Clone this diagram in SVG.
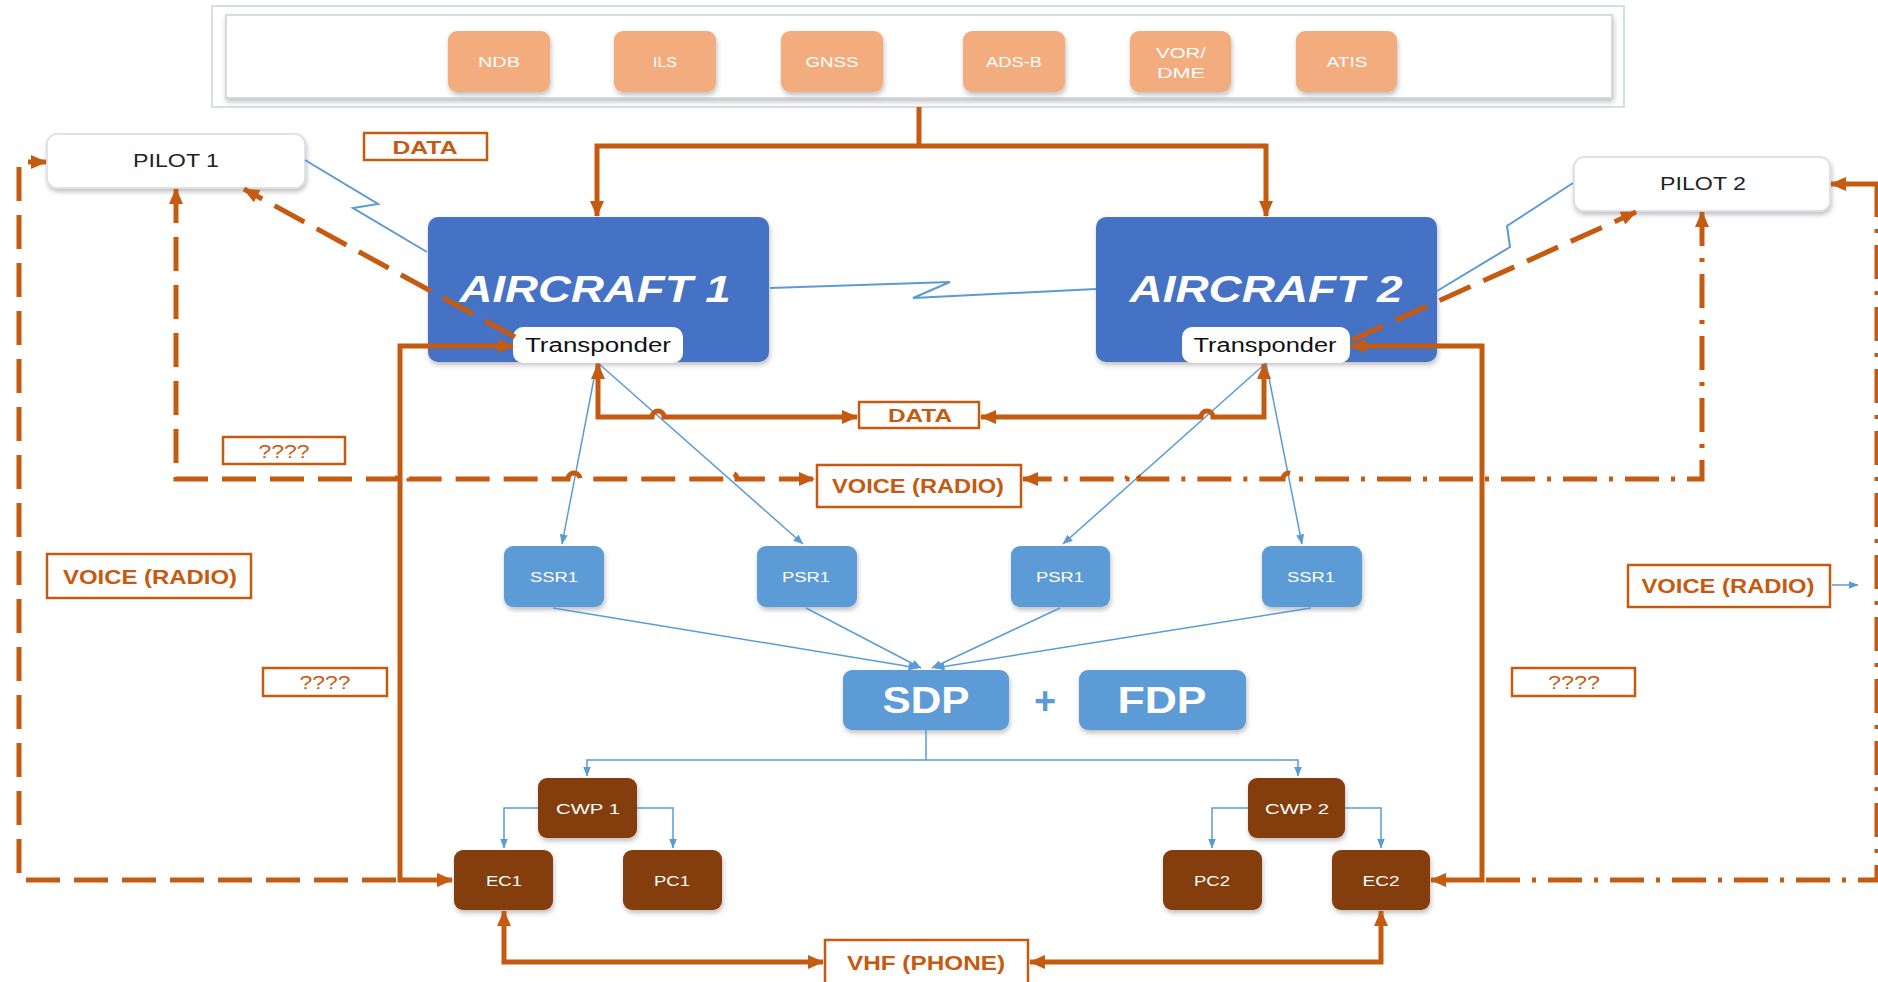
<svg xmlns="http://www.w3.org/2000/svg" width="1878" height="982" viewBox="0 0 1878 982">
<style>
text{font-family:"Liberation Sans",Arial,sans-serif;}
.peach{fill:#F2AC7E;}
.ptxt{fill:#FFFFFF;font-size:14px;text-anchor:middle;}
.ac{fill:#4472C4;}
.actxt{fill:#FFFFFF;font-size:36px;font-weight:bold;font-style:italic;text-anchor:middle;}
.tp{fill:#FFFFFF;}
.tptxt{fill:#111111;font-size:20px;text-anchor:middle;}
.pilot{fill:#FFFFFF;stroke:#D6DCE4;stroke-width:1.5;}
.pilottxt{fill:#222222;font-size:18px;text-anchor:middle;}
.lbl{fill:#FFFFFF;stroke:#C55A11;stroke-width:2.5;}
.lbltxt{fill:#C55A11;font-size:20px;font-weight:bold;text-anchor:middle;}
.qtxt{fill:#C55A11;font-size:19px;text-anchor:middle;}
.blue{fill:#5B9BD5;}
.btxt{fill:#FFFFFF;font-size:14px;text-anchor:middle;}
.big{fill:#FFFFFF;font-size:37px;font-weight:bold;text-anchor:middle;}
.brown{fill:#843C0C;}
.brtxt{fill:#FFFFFF;font-size:15px;text-anchor:middle;}
.o{fill:none;stroke:#C55A11;stroke-width:5;}
.od{fill:none;stroke:#C55A11;stroke-width:5;stroke-dasharray:34 14;}
.odd{fill:none;stroke:#C55A11;stroke-width:5;stroke-dasharray:34 12 4 12;}
.bl{fill:none;stroke:#5B9BD5;stroke-width:1.5;}
.lz{fill:none;stroke:#5B9BD5;stroke-width:2;stroke-linejoin:miter;}
</style>
<defs>
<marker id="oa" viewBox="0 0 16 14" refX="15" refY="7" markerWidth="16" markerHeight="14" markerUnits="userSpaceOnUse" orient="auto-start-reverse">
<path d="M0,0 L16,7 L0,14 z" fill="#C55A11"/>
</marker>
<marker id="ba" viewBox="0 0 10 8" refX="9.5" refY="4" markerWidth="10" markerHeight="8" markerUnits="userSpaceOnUse" orient="auto-start-reverse">
<path d="M0,0 L10,4 L0,8 z" fill="#5B9BD5"/>
</marker>
<filter id="sh" x="-10%" y="-10%" width="130%" height="140%">
<feDropShadow dx="1" dy="3" stdDeviation="2.5" flood-color="#000000" flood-opacity="0.25"/>
</filter>
</defs>

<!-- top navigation aids panel -->
<g id="navaids">
<rect x="212" y="6" width="1412" height="101" fill="#FFFFFF" stroke="#D5DEE8" stroke-width="2"/>
<rect x="226" y="15" width="1386" height="83" fill="#FFFFFF" stroke="#CFCFCF" stroke-width="1.5" filter="url(#sh)"/>
</g>
<g id="ndb"><rect class="peach" x="448" y="31" width="102" height="61" rx="9" filter="url(#sh)"/><text class="ptxt" x="499" y="67" textLength="42" lengthAdjust="spacingAndGlyphs">NDB</text></g>
<g id="ils"><rect class="peach" x="614" y="31" width="102" height="61" rx="9" filter="url(#sh)"/><text class="ptxt" x="665" y="67" textLength="24" lengthAdjust="spacingAndGlyphs">ILS</text></g>
<g id="gnss"><rect class="peach" x="781" y="31" width="102" height="61" rx="9" filter="url(#sh)"/><text class="ptxt" x="832" y="67" textLength="53" lengthAdjust="spacingAndGlyphs">GNSS</text></g>
<g id="adsb"><rect class="peach" x="963" y="31" width="102" height="61" rx="9" filter="url(#sh)"/><text class="ptxt" x="1014" y="67" textLength="56" lengthAdjust="spacingAndGlyphs">ADS-B</text></g>
<g id="vordme"><rect class="peach" x="1130" y="31" width="101" height="61" rx="9" filter="url(#sh)"/><text class="ptxt" x="1181" y="58" textLength="50" lengthAdjust="spacingAndGlyphs">VOR/</text><text class="ptxt" x="1181" y="78" textLength="48" lengthAdjust="spacingAndGlyphs">DME</text></g>
<g id="atis"><rect class="peach" x="1296" y="31" width="101" height="61" rx="9" filter="url(#sh)"/><text class="ptxt" x="1347" y="67" textLength="41" lengthAdjust="spacingAndGlyphs">ATIS</text></g>

<!-- aircraft -->
<g id="aircraft1">
<rect class="ac" x="428" y="217" width="341" height="145" rx="10" filter="url(#sh)"/>
<text class="actxt" x="595" y="302" textLength="271" lengthAdjust="spacingAndGlyphs">AIRCRAFT 1</text>
</g>
<g id="transponder1">
<rect class="tp" x="513" y="327" width="170" height="36" rx="10"/>
<text class="tptxt" x="598" y="352" textLength="146" lengthAdjust="spacingAndGlyphs">Transponder</text>
</g>
<g id="aircraft2">
<rect class="ac" x="1096" y="217" width="341" height="145" rx="10" filter="url(#sh)"/>
<text class="actxt" x="1266" y="302" textLength="273" lengthAdjust="spacingAndGlyphs">AIRCRAFT 2</text>
</g>
<g id="transponder2">
<rect class="tp" x="1182" y="327" width="168" height="36" rx="10"/>
<text class="tptxt" x="1265" y="352" textLength="143" lengthAdjust="spacingAndGlyphs">Transponder</text>
</g>

<!-- pilots -->
<g id="pilot1">
<rect class="pilot" x="47" y="134" width="258" height="54" rx="10" filter="url(#sh)"/>
<text class="pilottxt" x="176" y="167" textLength="86" lengthAdjust="spacingAndGlyphs">PILOT 1</text>
</g>
<g id="pilot2">
<rect class="pilot" x="1574" y="157" width="256" height="54" rx="10" filter="url(#sh)"/>
<text class="pilottxt" x="1703" y="190" textLength="86" lengthAdjust="spacingAndGlyphs">PILOT 2</text>
</g>

<!-- labels -->
<g id="label-data-top"><rect class="lbl" x="364" y="133" width="123" height="27"/><text class="lbltxt" x="425" y="154" style="font-size:19px" textLength="65" lengthAdjust="spacingAndGlyphs">DATA</text></g>
<g id="label-data-mid"><rect class="lbl" x="859" y="402" width="120" height="26"/><text class="lbltxt" x="920" y="422" style="font-size:18px" textLength="64" lengthAdjust="spacingAndGlyphs">DATA</text></g>
<g id="label-voice-mid"><rect class="lbl" x="817" y="465" width="204" height="42"/><text class="lbltxt" x="918" y="493" textLength="172" lengthAdjust="spacingAndGlyphs">VOICE (RADIO)</text></g>
<g id="label-voice-left"><rect class="lbl" x="47" y="554" width="204" height="44"/><text class="lbltxt" x="150" y="584" textLength="174" lengthAdjust="spacingAndGlyphs">VOICE (RADIO)</text></g>
<g id="label-voice-right"><rect class="lbl" x="1628" y="565" width="202" height="42"/><text class="lbltxt" x="1728" y="593" textLength="173" lengthAdjust="spacingAndGlyphs">VOICE (RADIO)</text></g>
<g id="label-q1"><rect class="lbl" x="223" y="437" width="122" height="27"/><text class="qtxt" x="284" y="458" textLength="51" lengthAdjust="spacingAndGlyphs">????</text></g>
<g id="label-q2"><rect class="lbl" x="263" y="668" width="124" height="28"/><text class="qtxt" x="325" y="689" textLength="51" lengthAdjust="spacingAndGlyphs">????</text></g>
<g id="label-q3"><rect class="lbl" x="1512" y="668" width="123" height="28"/><text class="qtxt" x="1574" y="689" textLength="52" lengthAdjust="spacingAndGlyphs">????</text></g>
<g id="label-vhf"><rect class="lbl" x="825" y="940" width="203" height="44"/><text class="lbltxt" x="926" y="970" textLength="158" lengthAdjust="spacingAndGlyphs">VHF (PHONE)</text></g>

<!-- radars -->
<g id="ssr1-left"><rect class="blue" x="504" y="546" width="100" height="61" rx="9" filter="url(#sh)"/><text class="btxt" x="554" y="582" textLength="48" lengthAdjust="spacingAndGlyphs">SSR1</text></g>
<g id="psr1-left"><rect class="blue" x="757" y="546" width="100" height="61" rx="9" filter="url(#sh)"/><text class="btxt" x="806" y="582" textLength="48" lengthAdjust="spacingAndGlyphs">PSR1</text></g>
<g id="psr1-right"><rect class="blue" x="1011" y="546" width="99" height="61" rx="9" filter="url(#sh)"/><text class="btxt" x="1060" y="582" textLength="48" lengthAdjust="spacingAndGlyphs">PSR1</text></g>
<g id="ssr1-right"><rect class="blue" x="1262" y="546" width="100" height="61" rx="9" filter="url(#sh)"/><text class="btxt" x="1311" y="582" textLength="48" lengthAdjust="spacingAndGlyphs">SSR1</text></g>

<!-- processing -->
<g id="sdp"><rect class="blue" x="843" y="670" width="166" height="60" rx="9" filter="url(#sh)"/><text class="big" x="926" y="713" textLength="87" lengthAdjust="spacingAndGlyphs">SDP</text></g>
<text x="1045" y="714" fill="#5B9BD5" font-size="38" font-weight="bold" text-anchor="middle">+</text>
<g id="fdp"><rect class="blue" x="1079" y="670" width="167" height="60" rx="9" filter="url(#sh)"/><text class="big" x="1162" y="713" textLength="89" lengthAdjust="spacingAndGlyphs">FDP</text></g>

<!-- controller working positions -->
<g id="cwp1"><rect class="brown" x="538" y="778" width="99" height="60" rx="9" filter="url(#sh)"/><text class="brtxt" x="588" y="814" textLength="64" lengthAdjust="spacingAndGlyphs">CWP 1</text></g>
<g id="ec1"><rect class="brown" x="454" y="850" width="99" height="60" rx="9" filter="url(#sh)"/><text class="brtxt" x="504" y="886" textLength="36" lengthAdjust="spacingAndGlyphs">EC1</text></g>
<g id="pc1"><rect class="brown" x="623" y="850" width="99" height="60" rx="9" filter="url(#sh)"/><text class="brtxt" x="672" y="886" textLength="36" lengthAdjust="spacingAndGlyphs">PC1</text></g>
<g id="cwp2"><rect class="brown" x="1248" y="778" width="97" height="60" rx="9" filter="url(#sh)"/><text class="brtxt" x="1297" y="814" textLength="64" lengthAdjust="spacingAndGlyphs">CWP 2</text></g>
<g id="pc2"><rect class="brown" x="1163" y="850" width="99" height="60" rx="9" filter="url(#sh)"/><text class="brtxt" x="1212" y="886" textLength="36" lengthAdjust="spacingAndGlyphs">PC2</text></g>
<g id="ec2"><rect class="brown" x="1332" y="850" width="98" height="60" rx="9" filter="url(#sh)"/><text class="brtxt" x="1381" y="886" textLength="37" lengthAdjust="spacingAndGlyphs">EC2</text></g>

<!-- connectors -->
<g id="connectors">
<!-- blue lightning links -->
<path class="lz" d="M305,160 L378,204 L353,208 L427,252"/>
<path class="lz" d="M1573,183 L1507,226 L1510,247 L1437,291"/>
<path class="lz" d="M770,288 L950,282 L913,298 L1096,289"/>
<!-- blue radar links -->
<path class="bl" d="M597,363 L562,544" marker-end="url(#ba)"/>
<path class="bl" d="M598,363 L803,544" marker-end="url(#ba)"/>
<path class="bl" d="M1266,363 L1063,544" marker-end="url(#ba)"/>
<path class="bl" d="M1266,363 L1302,544" marker-end="url(#ba)"/>
<path class="bl" d="M553,608 L918,668" marker-end="url(#ba)"/>
<path class="bl" d="M806,608 L921,668" marker-end="url(#ba)"/>
<path class="bl" d="M1060,608 L932,668" marker-end="url(#ba)"/>
<path class="bl" d="M1311,608 L935,668" marker-end="url(#ba)"/>
<path class="bl" d="M926,730 V760"/>
<path class="bl" d="M926,760 H587 V776" marker-end="url(#ba)"/>
<path class="bl" d="M926,760 H1298 V776" marker-end="url(#ba)"/>
<path class="bl" d="M538,808 H504 V848" marker-end="url(#ba)"/>
<path class="bl" d="M637,808 H673 V848" marker-end="url(#ba)"/>
<path class="bl" d="M1248,808 H1212 V848" marker-end="url(#ba)"/>
<path class="bl" d="M1345,808 H1381 V848" marker-end="url(#ba)"/>
<path class="bl" d="M1832,585 H1858" marker-end="url(#ba)"/>
<!-- orange solid -->
<path class="o" d="M919,107 V146"/>
<path class="o" d="M919,146 H597 V216" marker-end="url(#oa)"/>
<path class="o" d="M919,146 H1266 V216" marker-end="url(#oa)"/>
<path class="o" d="M513,346 H400 V880 H452" marker-start="url(#oa)" marker-end="url(#oa)"/>
<path class="o" d="M1351,346 H1482 V880 H1431" marker-start="url(#oa)" marker-end="url(#oa)"/>
<path class="o" d="M598,364 V417 H652 a6,6 0 0 1 12,0 H857" marker-start="url(#oa)" marker-end="url(#oa)"/>
<path class="o" d="M1264,364 V417 H1213 a6,6 0 0 0 -12,0 H981" marker-start="url(#oa)" marker-end="url(#oa)"/>
<path class="o" d="M504,911 V962 H823" marker-start="url(#oa)" marker-end="url(#oa)"/>
<path class="o" d="M1381,911 V962 H1030" marker-start="url(#oa)" marker-end="url(#oa)"/>
<!-- orange dashed -->
<path class="od" d="M515,337 L244,189" marker-end="url(#oa)"/>
<path class="od" d="M1352,340 L1636,212" marker-end="url(#oa)"/>
<path class="od" d="M176,189 V479 H397 a6,6 0 0 1 12,0 H568 a6,6 0 0 1 12,0 H725 a6,6 0 0 1 12,0 H814" marker-start="url(#oa)" marker-end="url(#oa)"/>
<path class="odd" d="M1702,212 V479 H1295 a6,6 0 0 0 -12,0 H1139 a6,6 0 0 0 -12,0 H1023" marker-start="url(#oa)" marker-end="url(#oa)"/>
<path class="od" d="M396,880 H19 V162 H46" marker-end="url(#oa)"/>
<path class="odd" d="M1486,880 H1877 V184"/>
<path class="o" d="M1878,184 H1831" marker-end="url(#oa)"/>
</g>
</svg>
